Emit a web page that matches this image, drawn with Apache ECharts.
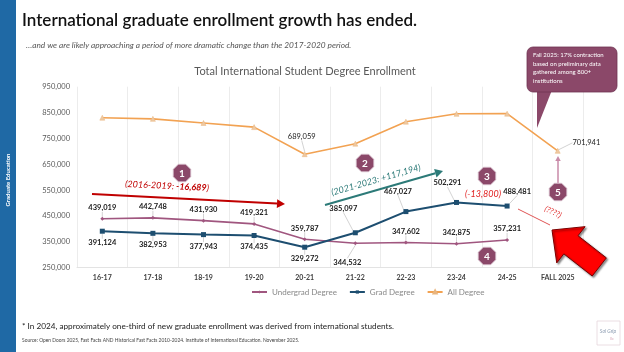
<!DOCTYPE html>
<html>
<head>
<meta charset="utf-8">
<script src="https://cdn.jsdelivr.net/npm/echarts@6/dist/echarts.min.js"></script>
<style>
  html, body { margin: 0; padding: 0; background: #fff; }
  #chart { width: 624px; height: 352px; }
</style>
</head>
<body>
<div id="chart"></div>
<script>
// data
const categories = ['16-17', '17-18', '18-19', '19-20', '20-21', '21-22', '22-23', '23-24', '24-25', 'FALL 2025']
const undergrad = [439019, 442748, 431930, 419321, 359787, 344532, 347602, 342875, 357231, null]
const grad = [391124, 382953, 377943, 374435, 329272, 385097, 467027, 502291, 488481, null]
const allDegree = [830143, 825701, 809873, 793756, 689059, 729629, 814629, 845166, 845712, 701941]
const allDegreeLabelled = [4, 9]
const yMin = 250000
const yMax = 950000
const yStep = 100000

const FONT = 'Lato, "Open Sans", sans-serif'
const C_UG = '#a0567f'
const C_GRAD = '#1d4e70'
const C_ALL = '#f2a252'
const C_BADGE = '#8b4869'

const fmt = v => v.toLocaleString('en-US')

// label tweaks: [position, dx, dy]
const ugLabels = { 5: ['bottom', -8, 8] }
const gradLabels = { 4: ['bottom', 0, 0], 5: ['top', -12, -13], 6: ['top', -8, -9], 7: ['top', -9, -8], 8: ['top', 10, -3] }
const allLabels = { 4: ['top', -3, -6], 9: ['right', 7, -8] }

function layoutFor (map) {
  return function (params) {
    const o = map[params.dataIndex]
    return o ? { dx: o[1], dy: o[2] } : {}
  }
}

function buildData (values, map, defPos, showIdx) {
  return values.map((v, i) => {
    const show = v != null && (!showIdx || showIdx.indexOf(i) >= 0)
    const o = map[i]
    return {
      value: v,
      label: { show: show, position: o ? o[0] : defPos }
    }
  })
}

const labelBase = {
  fontFamily: FONT,
  fontSize: 7.5,
  fontWeight: 'bold',
  color: '#1a1a1a',
  distance: 5,
  formatter: p => fmt(p.value)
}
const leader = { show: true, lineStyle: { color: '#c8c8c8', width: 0.8 } }

// annotation helpers
function arrow (x1, y1, x2, y2, color, width, head) {
  const a = Math.atan2(y2 - y1, x2 - x1)
  const bx = x2 - Math.cos(a) * head
  const by = y2 - Math.sin(a) * head
  const w = head * 0.55
  return [
    { type: 'line', z: 50, shape: { x1: x1, y1: y1, x2: bx, y2: by }, style: { stroke: color, lineWidth: width } },
    {
      type: 'polygon', z: 50,
      shape: { points: [[x2, y2], [bx - Math.sin(a) * w, by + Math.cos(a) * w], [bx + Math.sin(a) * w, by - Math.cos(a) * w]] },
      style: { fill: color }
    }
  ]
}

function badge (cx, cy, num) {
  const r = 9.5
  const pts = []
  for (let k = 0; k < 8; k++) {
    const t = Math.PI / 8 + k * Math.PI / 4
    pts.push([cx + r * Math.cos(t), cy + r * Math.sin(t)])
  }
  return [
    { type: 'polygon', z: 60, shape: { points: pts }, style: { fill: C_BADGE, stroke: '#d9c3cf', lineWidth: 0.8 } },
    {
      type: 'text', z: 61, x: cx, y: cy + 0.5,
      style: { text: String(num), fill: '#fff', font: 'bold 10px ' + FONT, align: 'center', verticalAlign: 'middle' }
    }
  ]
}

function blockArrow (tx, ty, deg) {
  const t = deg * Math.PI / 180
  const u = [Math.cos(t), Math.sin(t)]
  const v = [-Math.sin(t), Math.cos(t)]
  const P = (l, w) => [tx + u[0] * l + v[0] * w, ty + u[1] * l + v[1] * w]
  return {
    type: 'polygon', z: 55,
    shape: { points: [P(0, 0), P(24, 23), P(24, 11.5), P(60, 11.5), P(60, -11.5), P(24, -11.5), P(24, -23)] },
    style: { fill: '#ff0000', stroke: '#7a0000', lineWidth: 1, shadowBlur: 2, shadowOffsetX: 1.5, shadowOffsetY: 1.5, shadowColor: 'rgba(0,0,0,0.45)' }
  }
}

const graphics = [
  { type: 'rect', shape: { x: 0, y: 0, width: 16, height: 352 }, style: { fill: '#1f69a5' } },
  {
    type: 'text', x: 8, y: 180, rotation: Math.PI / 2,
    style: { text: 'Graduate Education', fill: '#fff', font: 'bold 6px ' + FONT, align: 'center', verticalAlign: 'middle' }
  },
  {
    type: 'text', x: 22, y: 21,
    style: { text: 'International graduate enrollment growth has ended.', fill: '#111', font: '600 17px ' + FONT, verticalAlign: 'middle' }
  },
  {
    type: 'text', x: 26, y: 45,
    style: { text: '…and we are likely approaching a period of more dramatic change than the 2017-2020 period.', fill: '#555', font: 'italic 8.3px ' + FONT, verticalAlign: 'middle' }
  },
  {
    type: 'text', x: 305, y: 71,
    style: { text: 'Total International Student Degree Enrollment', fill: '#595959', font: '11px ' + FONT, align: 'center', verticalAlign: 'middle' }
  },
  {
    type: 'text', x: 22, y: 326,
    style: { text: '* In 2024, approximately one-third of new graduate enrollment was derived from international students.', fill: '#222', font: '8.2px ' + FONT, verticalAlign: 'middle' }
  },
  {
    type: 'text', x: 22, y: 340,
    style: { text: 'Source: Open Doors 2025, Fast Facts AND Historical Fast Facts 2010-2024. Institute of International Education. November 2025.', fill: '#444', font: '4.9px ' + FONT, verticalAlign: 'middle' }
  },
  { type: 'rect', shape: { x: 597, y: 321, width: 23, height: 24 }, style: { fill: '#fff', stroke: '#e6d6dc', lineWidth: 0.8 } },
  { type: 'text', x: 608, y: 331, style: { text: 'Sol Grip', fill: '#8a9ab0', font: 'italic 5px ' + FONT, align: 'center', verticalAlign: 'middle' } },
  { type: 'text', x: 612, y: 339, style: { text: 'llc', fill: '#d8a8b8', font: '4px ' + FONT, align: 'center', verticalAlign: 'middle' } },

  // callout
  {
    type: 'polygon', z: 40,
    shape: { points: [[537, 90], [552, 90], [537, 128]] },
    style: { fill: C_BADGE }
  },
  {
    type: 'rect', z: 41, shape: { x: 527, y: 47, width: 90, height: 45, r: 6 },
    style: { fill: C_BADGE, stroke: '#6e3452', lineWidth: 0.8 }
  },
  {
    type: 'text', z: 42, x: 533, y: 51,
    style: {
      text: 'Fall 2025: 17% contraction\nbased on preliminary data\ngathered among 800+\ninstitutions',
      fill: '#fff', font: '6px ' + FONT, lineHeight: 8.5
    }
  },

  // 1: 2016-2019 decline
  ...arrow(92, 194, 285, 204, '#c00000', 2, 8),
  {
    type: 'text', z: 50, x: 167, y: 186, rotation: -0.05,
    style: {
      text: '{a|(2016-2019: }{b|-16,689}{a|)}',
      align: 'center', verticalAlign: 'middle',
      rich: {
        a: { fill: '#c00000', font: 'italic 9px ' + FONT },
        b: { fill: '#c00000', font: 'italic bold 9px ' + FONT }
      }
    }
  },
  // 2: 2021-2023 rise
  ...arrow(325, 205, 443, 171, '#2c7a78', 2, 8),
  {
    type: 'text', z: 50, x: 376, y: 180, rotation: 0.28,
    style: { text: '(2021-2023: +117,194)', fill: '#2c7a78', font: 'italic 9px ' + FONT, align: 'center', verticalAlign: 'middle' }
  },
  // 3
  {
    type: 'text', z: 50, x: 483, y: 194,
    style: { text: '(-13,800)', fill: '#e02020', font: 'italic 9px ' + FONT, align: 'center', verticalAlign: 'middle' }
  },
  // 5
  { type: 'line', z: 50, shape: { x1: 518, y1: 209, x2: 550, y2: 225 }, style: { stroke: '#e05555', lineWidth: 1 } },
  {
    type: 'text', z: 50, x: 553, y: 212, rotation: -0.45,
    style: { text: '(????)', fill: '#e03030', font: 'italic 8px ' + FONT, align: 'center', verticalAlign: 'middle' }
  },
  ...arrow(558, 183, 558, 156, '#c98aa8', 1.5, 5),
  blockArrow(552, 230, 38),
  ...badge(182, 173, 1),
  ...badge(365, 163, 2),
  ...badge(487, 176, 3),
  ...badge(487, 256, 4),
  ...badge(558, 192, 5)
]

const chart = echarts.init(document.getElementById('chart'))
chart.setOption({
  backgroundColor: '#fff',
  animation: false,
  textStyle: { fontFamily: FONT },
  grid: { left: 77, right: 41, top: 86.7, bottom: 84.3 },
  xAxis: {
    type: 'category',
    data: categories,
    boundaryGap: true,
    axisLine: { lineStyle: { color: '#e3e3e3' } },
    axisTick: { show: false },
    splitLine: { show: true, lineStyle: { color: '#ececec', width: 1 } },
    axisLabel: { color: '#404040', fontSize: 7, fontWeight: 'bold', margin: 7, fontFamily: FONT }
  },
  yAxis: {
    type: 'value',
    min: yMin,
    max: yMax,
    interval: yStep,
    axisLine: { show: false },
    axisTick: { show: false },
    splitLine: { show: false },
    axisLabel: { color: '#595959', fontSize: 7.5, margin: 7, formatter: v => fmt(v), fontFamily: FONT }
  },
  legend: {
    top: 283,
    left: 246,
    itemWidth: 15,
    itemHeight: 4,
    itemGap: 12,
    textStyle: { color: '#888', fontSize: 8, fontFamily: FONT },
    data: ['Undergrad Degree', 'Grad Degree', 'All Degree']
  },
  series: [
    {
      name: 'Undergrad Degree',
      type: 'line',
      data: buildData(undergrad, ugLabels, 'top'),
      color: C_UG,
      lineStyle: { width: 1.6 },
      symbol: 'diamond',
      symbolSize: 4,
      label: labelBase,
      labelLine: leader,
      labelLayout: layoutFor(ugLabels)
    },
    {
      name: 'Grad Degree',
      type: 'line',
      data: buildData(grad, gradLabels, 'bottom'),
      color: C_GRAD,
      lineStyle: { width: 2 },
      symbol: 'rect',
      symbolSize: 5,
      label: labelBase,
      labelLine: leader,
      labelLayout: layoutFor(gradLabels)
    },
    {
      name: 'All Degree',
      type: 'line',
      data: buildData(allDegree, allLabels, 'top', allDegreeLabelled),
      color: C_ALL,
      itemStyle: { color: '#eec9a2', borderColor: '#e8b57f', borderWidth: 0.5 },
      lineStyle: { width: 1.6, color: C_ALL },
      symbol: 'triangle',
      symbolSize: 5,
      label: Object.assign({}, labelBase, { fontWeight: 'normal', fontSize: 7.5 }),
      labelLine: leader,
      labelLayout: layoutFor(allLabels)
    }
  ],
  graphic: graphics
})
</script>
</body>
</html>
